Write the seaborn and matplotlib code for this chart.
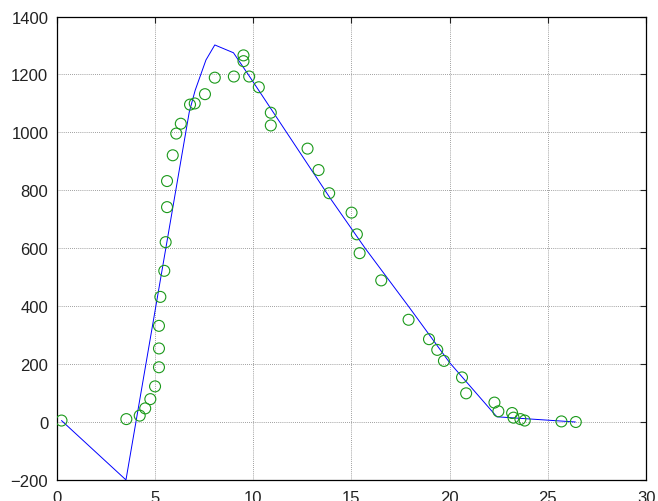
import matplotlib
matplotlib.use("Agg")
import matplotlib.pyplot as plt
import seaborn as sns
import pandas as pd

# Fitted curve (blue line) vertices
line_x = [0.25, 3.53, 6.75, 7.05, 7.6, 8.05, 9.0, 9.3, 9.8, 13.9, 15.7, 17.9, 20.0, 22.4, 26.4]
line_y = [5, -200, 1070, 1145, 1250, 1302, 1275, 1245, 1195, 775, 600, 400, 205, 18, 0]

# Observed data (green circles)
obs_x = [0.25, 3.55, 4.23, 4.51, 4.77, 5.01, 5.21, 5.21, 5.21, 5.28, 5.48, 5.55,
         5.62, 5.62, 5.91, 6.09, 6.32, 6.79, 7.03, 7.55, 8.05, 9.02, 9.51, 9.51,
         9.80, 10.29, 10.90, 10.90, 12.77, 13.33, 13.87, 15.01, 15.28, 15.42,
         16.52, 17.91, 18.95, 19.37, 19.71, 20.63, 20.84, 22.28, 22.48, 23.18,
         23.25, 23.60, 23.82, 25.69, 26.42]
obs_y = [5, 10, 22, 47, 79, 123, 189, 254, 332, 432, 522, 621,
         742, 832, 921, 996, 1030, 1096, 1100, 1132, 1189, 1193, 1266, 1246,
         1193, 1156, 1068, 1024, 944, 870, 790, 723, 648, 583,
         489, 353, 286, 249, 211, 154, 99, 67, 37, 31,
         15, 10, 5, 2, 0]

x_ticks = [0, 5, 10, 15, 20, 25, 30]
y_ticks = [-200, 0, 200, 400, 600, 800, 1000, 1200, 1400]

sns.set_style("white")
plt.rcParams['font.family'] = ['Liberation Sans', 'DejaVu Sans']

fig = plt.figure(figsize=(6.58, 5.02), dpi=100)
ax = fig.add_axes([0.086, 0.042, 0.896, 0.923])

line_df = pd.DataFrame({"x": line_x, "y": line_y})
obs_df = pd.DataFrame({"x": obs_x, "y": obs_y})

sns.lineplot(data=line_df, x="x", y="y", sort=False, estimator=None,
             color=(0, 0, 1), linewidth=0.7, ax=ax, zorder=3)
sns.scatterplot(data=obs_df, x="x", y="y", marker="o", s=62,
                facecolors="none", edgecolor=(0.1, 0.6, 0.1), linewidth=0.8,
                ax=ax, zorder=4)

ax.set_xlim(0, 30)
ax.set_ylim(-200, 1400)
ax.set_xticks(x_ticks)
ax.set_yticks(y_ticks)
ax.set_xlabel("")
ax.set_ylabel("")
ax.grid(True, linestyle=(0, (1, 1.5)), color="#808080", linewidth=0.6)
ax.set_axisbelow(True)
ax.tick_params(direction="in", length=4, width=0.8, top=True, right=True,
               labelsize=12, colors="#222222")
ax.tick_params(axis="x", pad=7)
ax.tick_params(axis="y", pad=6)
for sp in ax.spines.values():
    sp.set_visible(True)
    sp.set_color("black")
    sp.set_linewidth(0.9)

fig.savefig("out.png", dpi=100)
